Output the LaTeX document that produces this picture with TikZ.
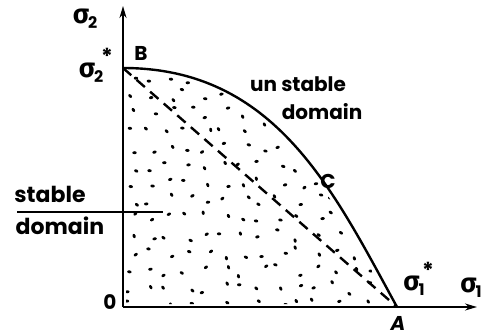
\documentclass[tikz,border=0pt]{standalone}
\usepackage{fontspec}
\setmainfont{Poppins}
\newfontfamily\grk{Fira Sans}
\newcommand\sigl[1]{{\grk\bfseries\fontsize{27}{27}\selectfont σ}\kern-1pt\raisebox{-0.45ex}{\bfseries\fontsize{16}{16}\selectfont #1}}
\tikzset{
  axisline/.style={line width=1.8pt,-{Stealth[length=12pt,width=7pt]}},
  boundary/.style={line width=2.4pt},
  dashline/.style={line width=2.4pt,dash pattern=on 11pt off 7pt},
  lbl/.style={inner sep=0pt,font=\bfseries\fontsize{20}{22}\selectfont},
  txt/.style={inner sep=0pt,font=\bfseries\fontsize{20}{22}\selectfont},
  txtb/.style={inner sep=0pt,font=\bfseries\fontsize{22}{24}\selectfont},
}
\usetikzlibrary{arrows.meta}
\begin{document}
\begin{tikzpicture}[x=1pt,y=-1pt]
\useasboundingbox (0,0) rectangle (481,336);
\fill[white] (0,0) rectangle (481,336);
\coordinate (O) at (123,307);
\coordinate (B) at (123,68);
\coordinate (A) at (397,307);
\coordinate (ytip) at (123,6);
\coordinate (xtip) at (477,307);
\coordinate (L1) at (17,212);
\coordinate (L2) at (163,212);
% stipple
\begin{scope}
\clip (126,304) -- (126,71) .. controls (270,71) and (328,190) .. (390,304) -- cycle;
\pgfmathsetseed{11}
\foreach \i in {0,...,15}{
  \foreach \j in {0,...,13}{
    \pgfmathsetmacro\px{132+\i*18.5+rand*6}
    \pgfmathsetmacro\py{78+\j*17.5+rand*6}
    \pgfmathsetmacro\ang{rand*60-20}
    \fill[rotate around={\ang:(\px,\py)}] (\px,\py) ellipse (2.2 and 1.5);
  }
}
\end{scope}
% axes
\draw[axisline] (O) -- (ytip);
\draw[axisline] (O) -- (xtip);
% curve and dashed chord
\draw[boundary] (B) .. controls (275,68) and (333,190) .. (A);
\draw[dashline] (B) -- (A);
% stable domain divider
\draw[line width=1.5pt] (L1) -- (L2);
% labels
\node[lbl] (s2) at (85,19) {\sigl{2}};
\node[lbl] (s2s) at (91,73) {\sigl{2}};
\node[lbl] (s2star) at (107,56) {\fontsize{22}{22}\selectfont *};
\node[lbl] (s1s) at (414,286) {\sigl{1}};
\node[lbl] (s1star) at (428,270) {\fontsize{22}{22}\selectfont *};
\node[lbl] (s1) at (471,288) {\sigl{1}};
\node[lbl] (Bl) at (141,53) {B};
\node[lbl] (Al) at (398,323) {\itshape A};
\node[lbl] (Cl) at (328,181) {C};
\node[lbl] (Ol) at (110,302) {0};
\node[txt] (us) at (298,84) {un stable};
\node[txt] (ud) at (322,112) {domain};
\node[txtb] (ss) at (50,194) {stable};
\node[txtb] (sd) at (60,226) {domain};
\end{tikzpicture}
\end{document}
